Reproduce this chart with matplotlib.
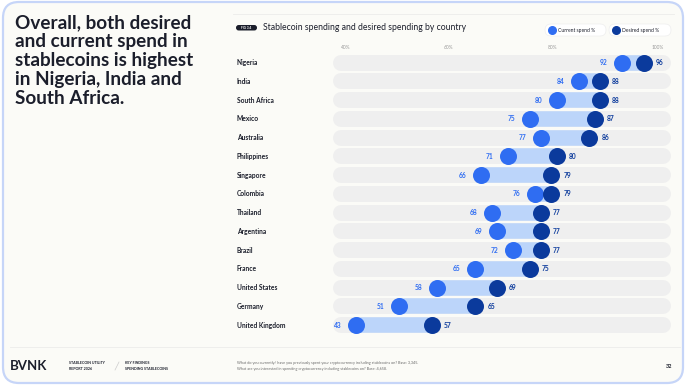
import matplotlib.pyplot as plt
from matplotlib.patches import FancyBboxPatch

# data
countries = ['Nigeria', 'India', 'South Africa', 'Mexico', 'Australia', 'Philippines',
             'Singapore', 'Colombia', 'Thailand', 'Argentina', 'Brazil', 'France',
             'United States', 'Germany', 'United Kingdom']
current = [92, 84, 80, 75, 77, 71, 66, 76, 68, 69, 72, 65, 58, 51, 43]
desired = [96, 88, 88, 87, 86, 80, 79, 79, 77, 77, 77, 75, 69, 65, 57]
tick_labels = ['40%', '60%', '80%', '100%']

C_CUR = '#2F6DF2'
C_DES = '#0B3A9C'
C_LINK = '#BCD5FA'
C_TRACK = '#EFEFEF'
C_BG = '#FBFBF7'
C_TEXT = '#1B1E2B'

plt.rcParams['font.family'] = ['Lato', 'DejaVu Sans']

fig = plt.figure(figsize=(6.86, 3.86), dpi=100)
fig.patch.set_facecolor('white')

# background / decoration layer in pixel coordinates
bg = fig.add_axes([0, 0, 1, 1])
bg.set_xlim(0, 686)
bg.set_ylim(386, 0)
bg.axis('off')
bg.add_patch(FancyBboxPatch((3, 2), 680, 381, boxstyle='round,pad=0,rounding_size=16',
                            fc=C_BG, ec='#C6D5F8', lw=1.6))
bg.plot([233, 674], [14, 14], color='#ECECEA', lw=0.6)
bg.plot([10, 680], [347, 347], color='#ECECEA', lw=0.6)

# headline
bg.text(15, 14.5, 'Overall, both desired\nand current spend in\nstablecoins is highest\nin Nigeria, India and\nSouth Africa.',
        fontsize=13.6, fontweight='bold', color=C_TEXT, va='top', ha='left', linespacing=1.13)

# chart header
bg.add_patch(FancyBboxPatch((236, 25), 21, 5.5, boxstyle='round,pad=0,rounding_size=2.7',
                            fc='#1B1E2B', ec='none'))
bg.text(246.5, 27.9, 'FIG 3.4', fontsize=2.3, fontweight='bold', color='white', ha='center', va='center')
bg.text(263, 27.8, 'Stablecoin spending and desired spending by country', fontsize=6.2,
        color=C_TEXT, ha='left', va='center')

# legend pills
for x0, w, col, lab in [(545, 61, C_CUR, 'Current spend %'), (609, 62, C_DES, 'Desired spend %')]:
    bg.add_patch(FancyBboxPatch((x0, 24), w, 12, boxstyle='round,pad=0,rounding_size=6',
                                fc='white', ec='#EEEEEE', lw=0.5))
    bg.scatter([x0 + 7], [30], s=30, color=col, zorder=3)
    bg.text(x0 + 13, 30.2, lab, fontsize=3.6, color=C_TEXT, ha='left', va='center')

# axis labels on top (placed where the slide prints them)
for x, t in zip([346, 449, 552, 658], tick_labels):
    bg.text(x, 47.5, t, fontsize=3.5, color='#9A9A9A', ha='center', va='center')

# footer
bg.text(10, 366.5, 'BVNK', fontsize=9.5, fontweight='bold', color=C_TEXT, ha='left', va='center')
bg.text(69, 366, 'STABLECOIN UTILITY\nREPORT 2026', fontsize=2.6, fontweight='bold', color=C_TEXT,
        ha='left', va='center', linespacing=1.4)
bg.plot([115, 119], [370, 362], color='#CCCCCC', lw=0.5)
bg.text(125, 366, 'KEY FINDINGS\nSPENDING STABLECOINS', fontsize=2.6, fontweight='bold', color=C_TEXT,
        ha='left', va='center', linespacing=1.4)
bg.text(237, 366, 'What do you currently/ have you previously spent your cryptocurrency including stablecoins on? Base: 3,345.\n'
                  'What are you interested in spending cryptocurrency including stablecoins on? Base: 4,658.',
        fontsize=2.7, color='#6A6A6A', ha='left', va='center', linespacing=1.5)
bg.text(672, 366, '32', fontsize=4, fontweight='bold', color=C_TEXT, ha='right', va='center')

# dumbbell chart
ax = fig.add_axes([330 / 686, (386 - 334.4) / 386, 342 / 686, 281.1 / 386])
ax.set_facecolor('none')
ax.set_xlim(38.2, 101.2)
ax.set_ylim(len(countries) - 0.5, -0.5)
ax.axis('off')

px = 72 / 100
rows = range(len(countries))
for i in rows:
    ax.plot([40.3, 99.5], [i, i], color=C_TRACK, lw=16 * px, solid_capstyle='round', zorder=1)
    ax.plot([current[i], desired[i]], [i, i], color=C_LINK, lw=15.5 * px, solid_capstyle='butt', zorder=2)

ax.scatter(current, list(rows), s=150, color=C_CUR, zorder=3, linewidths=0)
ax.scatter(desired, list(rows), s=150, color=C_DES, zorder=4, linewidths=0)

ytr = ax.get_yaxis_transform()
for i, name in enumerate(countries):
    ax.text(-0.272, i, name, transform=ytr, fontsize=4.8, fontweight='bold', color=C_TEXT,
            ha='left', va='center')
    ax.annotate(str(current[i]), (current[i], i), xytext=(-10.5, 0), textcoords='offset points',
                fontsize=4.8, fontweight='bold', color=C_CUR, ha='right', va='center')
    ax.annotate(str(desired[i]), (desired[i], i), xytext=(8.5, 0), textcoords='offset points',
                fontsize=4.8, fontweight='bold', color=C_DES, ha='left', va='center')

fig.savefig('out.png', dpi=100, facecolor='white')
